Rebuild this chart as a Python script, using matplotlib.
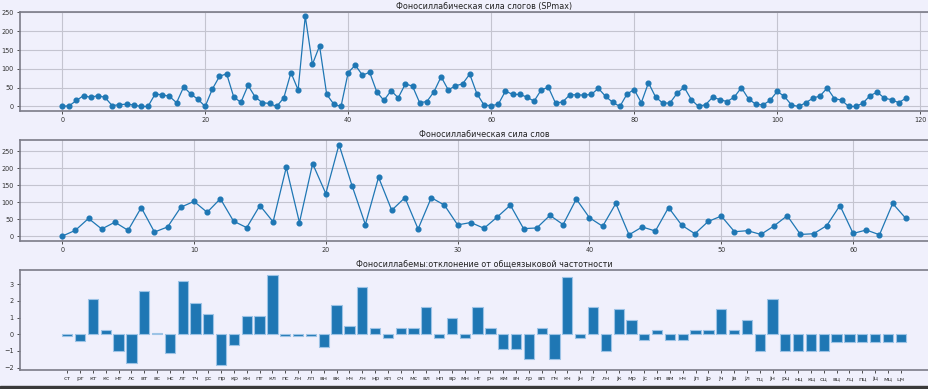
import matplotlib.pyplot as plt
from matplotlib.patches import Rectangle

# syllable strength (SPmax), 119 syllables
syl_values = [0, 2, 16, 29, 24, 29, 24, 2, 5, 6, 4, 0, 0, 33, 31, 27, 10, 52, 33, 19,
              0, 46, 80, 87, 25, 11, 56, 25, 10, 8, 0, 23, 90, 44, 240, 112, 161, 32, 6, 0,
              90, 110, 83, 91, 39, 16, 42, 23, 60, 54, 10, 13, 39, 79, 44, 55, 60, 86, 34, 4,
              2, 6, 41, 32, 32, 25, 14, 44, 51, 9, 12, 31, 31, 30, 32, 48, 27, 11, 0, 33,
              45, 10, 63, 25, 9, 9, 35, 51, 18, 0, 5, 25, 18, 13, 25, 50, 20, 6, 4, 16,
              40, 27, 4, 0, 10, 22, 28, 49, 21, 17, 0, 0, 9, 29, 38, 22, 18, 10, 22]

# word strength, 65 words
word_values = [0, 17, 52, 21, 41, 17, 84, 12, 27, 85, 102, 70, 110, 44, 25, 90, 42, 202, 40, 213,
               125, 269, 147, 34, 173, 76, 113, 21, 113, 91, 33, 40, 23, 56, 91, 22, 24, 61, 34, 109,
               54, 29, 96, 4, 27, 15, 84, 32, 7, 43, 59, 13, 16, 5, 30, 60, 5, 7, 31, 90,
               8, 18, 4, 96, 52]

# phonosyllabemes: deviation from general frequency
bar_labels = ['ст', 'рт', 'кт', 'кс', 'нт', 'лс', 'вт', 'вс', 'нс', 'лт', 'тч', 'рс', 'пр', 'кр',
              'кн', 'пт', 'кл', 'пс', 'лн', 'лп', 'вн', 'вк', 'нч', 'лч', 'нр', 'кп', 'сч', 'мс',
              'вл', 'нп', 'вр', 'мн', 'нт', 'рч', 'км', 'вч', 'лр', 'вп', 'пч', 'кч', 'јн', 'јт',
              'лн', 'јк', 'мр', 'јс', 'нп', 'вм', 'нч', 'јп', 'јр', 'јч', 'јв', 'јл', 'тц', 'јн',
              'рц', 'нц', 'кц', 'сц', 'вц', 'лц', 'пц', 'јц', 'мц', 'цч']
bar_values = [-0.12, -0.38, 2.1, 0.24, -1.0, -1.75, 2.6, 0.1, -1.14, 3.2, 1.85, 1.22, -1.87, -0.62,
              1.1, 1.1, 3.57, -0.12, -0.12, -0.12, -0.74, 1.73, 0.5, 2.85, 0.36, -0.24, 0.36, 0.36,
              1.6, -0.24, 0.98, -0.24, 1.6, 0.36, -0.86, -0.86, -1.48, 0.36, -1.48, 3.45, -0.24, 1.6,
              -0.98, 1.48, 0.86, -0.36, 0.24, -0.36, -0.36, 0.24, 0.24, 1.48, 0.24, 0.86, -0.98, 2.1,
              -0.98, -0.98, -0.98, -0.98, -0.48, -0.48, -0.48, -0.48, -0.48, -0.48]

bg = '#f0f0fc'
blue = '#1f77b4'

fig = plt.figure(figsize=(9.29, 3.89), dpi=100, facecolor=bg)


def style_axes(ax, grid=True):
    ax.set_facecolor(bg)
    for s in ax.spines.values():
        s.set_color('#7c7c88')
        s.set_linewidth(1.2)
    ax.tick_params(labelsize=4.7, colors='#333333', length=2.5, width=0.6, pad=2)
    if grid:
        ax.grid(True, color='#c4c4d0', linewidth=0.8)
        ax.set_axisbelow(True)


# top: syllables
ax1 = fig.add_axes([0.0215, 0.7147, 0.999, 0.2553])
style_axes(ax1)
ax1.plot(range(len(syl_values)), syl_values, '-o', color=blue, lw=0.9, ms=3.4)
ax1.set_xticks([0, 20, 40, 60, 80, 100, 120])
ax1.set_yticks([0, 50, 100, 150, 200, 250])
ax1.set_title('Фоносиллабическая сила слогов (SPmax)', fontsize=5.8, pad=2, color='#222222')

# middle: words
ax2 = fig.add_axes([0.0215, 0.3812, 0.999, 0.2589])
style_axes(ax2)
ax2.plot(range(len(word_values)), word_values, '-o', color=blue, lw=0.9, ms=3.4)
ax2.set_xticks([0, 10, 20, 30, 40, 50, 60])
ax2.set_yticks([0, 50, 100, 150, 200, 250])
ax2.set_title('Фоносиллабическая сила слов', fontsize=5.8, pad=2, color='#222222')

# bottom: bars
ax3 = fig.add_axes([0.0215, 0.0488, 0.999, 0.2571])
style_axes(ax3, grid=False)
pos = list(range(len(bar_values)))
ax3.bar(pos, bar_values, width=0.8, color=blue, edgecolor='#9cc3e6', linewidth=0.8)
ax3.set_xticks(pos)
ax3.set_xticklabels(bar_labels, fontsize=4.5)
ax3.set_yticks([-2, -1, 0, 1, 2, 3])
ax3.set_title('Фоносиллабемы:отклонение от общеязыковой частотности', fontsize=5.8, pad=2,
              color='#222222')

# dark strip at the bottom edge of the screenshot
fig.patches.append(Rectangle((0, 0), 1, 0.007, transform=fig.transFigure,
                             color='#3a3a3a', zorder=5))

fig.savefig('out.png', dpi=100, facecolor=bg)
